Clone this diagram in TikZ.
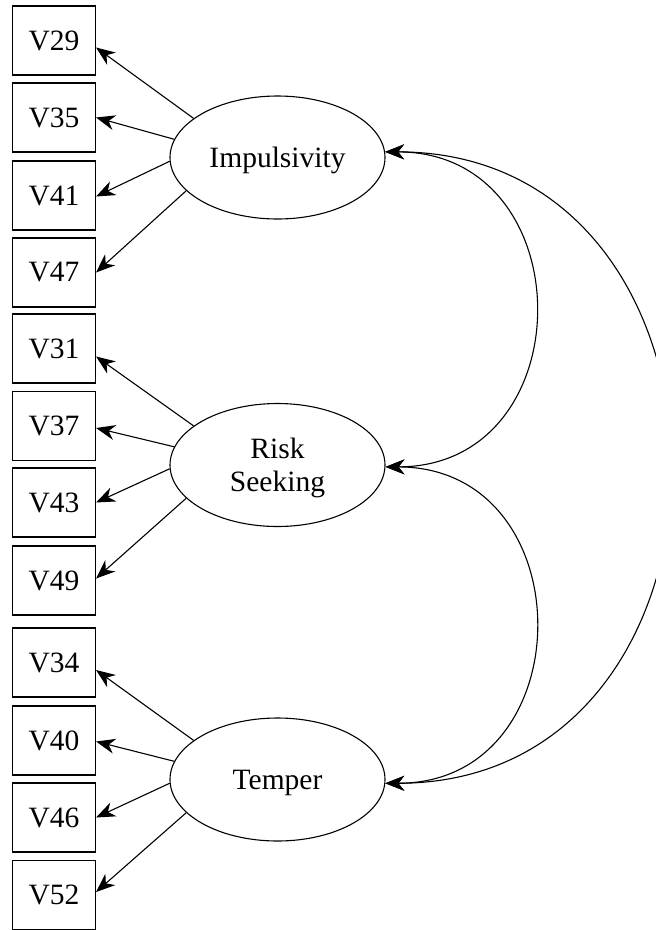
\documentclass[tikz,border=0pt]{standalone}
\usepackage{fontspec}
\setmainfont{Liberation Serif}
\usetikzlibrary{arrows.meta,shapes.geometric}
\tikzset{
  obsbox/.style={draw,line width=1.1pt,minimum width=83pt,minimum height=69pt,inner sep=0pt,font=\fontsize{29.5}{33.5}\selectfont},
  latent/.style={draw,ellipse,line width=1.1pt,minimum width=215pt,minimum height=123pt,inner sep=0pt,text depth=0pt,align=center,font=\fontsize{29.5}{33.5}\selectfont},
  tipshape/.tip={Stealth[length=19pt,width=15pt,inset=6pt]},
  load/.style={line width=1.1pt,-tipshape},
  cov/.style={line width=1.1pt,tipshape-tipshape}
}
\begin{document}
\begin{tikzpicture}[x=1pt,y=-1pt]
\useasboundingbox (0,0) rectangle (656,930);
\clip (0,0) rectangle (656,930);
% observed variables
\node[obsbox] (v29) at (54,40.5) {V29};
\node[obsbox] (v35) at (54,117.5) {V35};
\node[obsbox] (v41) at (54,195.5) {V41};
\node[obsbox] (v47) at (54,272.5) {V47};
\node[obsbox] (v31) at (54,348.5) {V31};
\node[obsbox] (v37) at (54,426) {V37};
\node[obsbox] (v43) at (54,502.5) {V43};
\node[obsbox] (v49) at (54,580.5) {V49};
\node[obsbox] (v34) at (54,662.5) {V34};
\node[obsbox] (v40) at (54,740.5) {V40};
\node[obsbox] (v46) at (54,817.5) {V46};
\node[obsbox] (v52) at (54,895) {V52};
% latent variables
\node[latent] (imp) at (277.5,157.5) {Impulsivity};
\node[latent] (risk) at (277.5,465) {Risk\\Seeking};
\node[latent] (temp) at (277.5,779.5) {Temper};
% loadings
\draw[load] (imp.155) -- ([yshift=-7pt]v29.east);
\draw[load] (imp.170) -- (v35.east);
\draw[load] (imp.182) -- ([yshift=-1pt]v41.east);
\draw[load] (imp.200) -- (v47.east);
\draw[load] (risk.155) -- ([yshift=-8pt]v31.east);
\draw[load] (risk.170) -- ([yshift=-2pt]v37.east);
\draw[load] (risk.182) -- (v43.east);
\draw[load] (risk.200) -- ([yshift=2pt]v49.east);
\draw[load] (temp.155) -- ([yshift=-7.5pt]v34.east);
\draw[load] (temp.170) -- ([yshift=-1pt]v40.east);
\draw[load] (temp.182) -- (v46.east);
\draw[load] (temp.200) -- ([yshift=3pt]v52.east);
% covariances
\draw[cov] (imp.3) .. controls +(199,0) and +(199,0) .. (risk.359);
\draw[cov] (risk.359) .. controls +(199,0) and +(199,0) .. (temp.358);
\draw[cov] (imp.3) .. controls +(378,0) and +(378,0) .. (temp.358);
\end{tikzpicture}
\end{document}
